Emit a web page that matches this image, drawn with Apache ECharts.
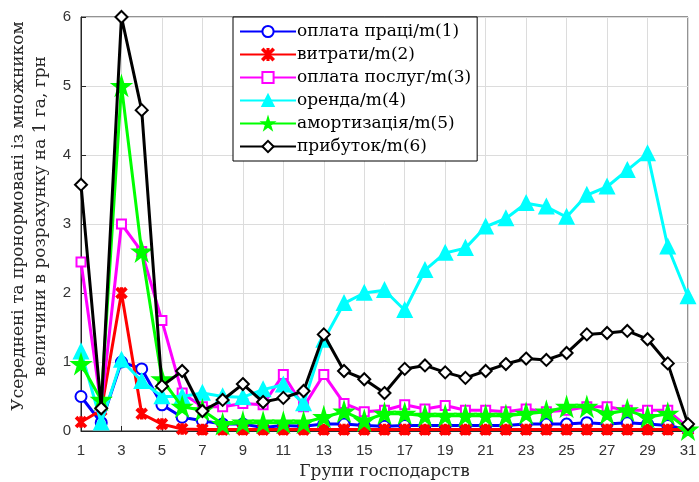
<!DOCTYPE html>
<html><head><meta charset="utf-8">
<script src="https://cdn.jsdelivr.net/npm/echarts@6/dist/echarts.min.js"></script>
<style>html,body{margin:0;padding:0;background:#fff}#c{width:699px;height:482px}</style>
</head><body><div id="c"></div>
<script>
const groups = [1,2,3,4,5,6,7,8,9,10,11,12,13,14,15,16,17,18,19,20,21,22,23,24,25,26,27,28,29,30,31];
const seriesNames = ['оплата праці/m(1)','витрати/m(2)','оплата послуг/m(3)','оренда/m(4)','амортизація/m(5)','прибуток/m(6)'];
const labour  = [0.5,0.12,1.0,0.9,0.38,0.2,0.15,0.1,0.1,0.05,0.08,0.07,0.1,0.1,0.08,0.07,0.08,0.08,0.08,0.08,0.08,0.08,0.1,0.1,0.1,0.12,0.1,0.12,0.1,0.08,0.02];
const costs   = [0.13,0.3,2.0,0.25,0.1,0.03,0.02,0.02,0.02,0.02,0.02,0.02,0.02,0.02,0.02,0.02,0.02,0.02,0.02,0.02,0.02,0.02,0.02,0.02,0.02,0.02,0.02,0.02,0.02,0.02,0.02];
const services= [2.45,0.35,3.0,2.6,1.6,0.55,0.35,0.35,0.4,0.38,0.82,0.35,0.82,0.4,0.28,0.3,0.38,0.32,0.37,0.3,0.3,0.28,0.32,0.28,0.3,0.35,0.35,0.3,0.3,0.3,0.05];
const rent    = [1.15,0.12,1.03,0.72,0.5,0.5,0.55,0.5,0.49,0.6,0.67,0.4,1.32,1.85,2.0,2.04,1.75,2.33,2.58,2.65,2.96,3.08,3.3,3.25,3.1,3.42,3.54,3.78,4.02,2.67,1.95];
const amort   = [0.97,0.45,5.0,2.6,0.75,0.35,0.3,0.1,0.12,0.12,0.12,0.12,0.2,0.28,0.15,0.25,0.25,0.22,0.22,0.22,0.22,0.22,0.25,0.28,0.35,0.35,0.25,0.3,0.2,0.25,0.02];
const profit  = [3.57,0.33,6.0,4.65,0.65,0.87,0.29,0.45,0.68,0.42,0.48,0.58,1.4,0.87,0.75,0.55,0.9,0.95,0.85,0.77,0.87,0.97,1.05,1.03,1.13,1.4,1.42,1.45,1.33,0.98,0.1];
const yTicks = [0,1,2,3,4,5,6];

const starPath = 'path://M50,0 L61,35 L98,35 L68,57 L79,91 L50,70 L21,91 L32,57 L2,35 L39,35 Z';
const xPath = 'path://M10,0 L50,40 L90,0 L100,10 L60,50 L100,90 L90,100 L50,60 L10,100 L0,90 L40,50 L0,10 Z M45,0 L55,0 L55,100 L45,100 Z';

const colors = ['#0000ff','#ff0000','#ff00ff','#00ffff','#00ff00','#000000'];
const symbols = ['emptyCircle', xPath, 'emptyRect', 'triangle', starPath, 'emptyDiamond'];
const sizes = [11, 9, 9, 13, 16, 12];
const datas = [labour, costs, services, rent, amort, profit];
const serif = '"DejaVu Serif","Liberation Serif",serif';
const sans = '"Liberation Sans",Arial,sans-serif';

const chart = echarts.init(document.getElementById('c'));
chart.setOption({
  animation:false,
  backgroundColor:'#fff',
  grid:{left:81,right:11,top:17,bottom:51,outerBoundsMode:'none',containLabel:false,show:true,borderColor:'#262626',borderWidth:1,backgroundColor:'transparent'},
  legend:{
    orient:'vertical',left:233,top:17,
    backgroundColor:'#fff',borderColor:'#000',borderWidth:1,borderRadius:0,
    padding:[6,6,6,6],itemGap:6,itemWidth:56,itemHeight:14,
    textStyle:{fontFamily:serif,fontSize:17,color:'#000',padding:[0,0,0,-4]},
    data:seriesNames
  },
  xAxis:{
    type:'category',data:groups,boundaryGap:false,
    name:'Групи господарств',nameLocation:'middle',nameGap:28,
    nameTextStyle:{fontFamily:serif,fontSize:17,color:'#262626'},
    axisLine:{lineStyle:{color:'#262626'}},
    axisTick:{interval:1,inside:true,length:5,lineStyle:{color:'#262626'}},
    axisLabel:{interval:1,fontFamily:sans,fontSize:15,color:'#333',margin:12},
    splitLine:{show:true,interval:1,lineStyle:{color:'#dcdcdc'}}
  },
  yAxis:{
    type:'value',min:yTicks[0],max:yTicks[yTicks.length-1],interval:1,
    name:'Усереднені та пронормовані із множником\nвеличини в розрахунку на 1 га, грн',
    nameLocation:'middle',nameGap:29,
    nameTextStyle:{fontFamily:serif,fontSize:17,color:'#262626',lineHeight:22,padding:[0,0,0,16]},
    axisLine:{show:true,lineStyle:{color:'#262626'}},
    axisTick:{show:true,inside:true,length:5,lineStyle:{color:'#262626'}},
    axisLabel:{fontFamily:sans,fontSize:15,color:'#333',margin:10},
    splitLine:{show:true,lineStyle:{color:'#dcdcdc'}}
  },
  series:datas.map((d,i)=>({
    name:seriesNames[i],type:'line',data:d,
    symbol:symbols[i],symbolSize:sizes[i],showAllSymbol:true,
    lineStyle:{color:colors[i],width:3},
    itemStyle:{color:colors[i],borderColor:colors[i],borderWidth:2.5},
    z:2+i
  }))
});
</script></body></html>
